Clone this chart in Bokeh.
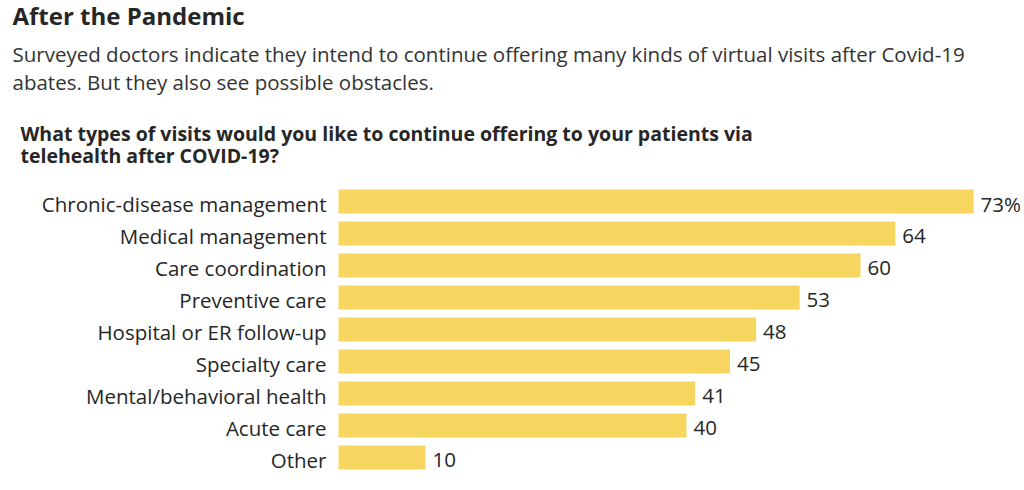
from bokeh.plotting import figure
from bokeh.models import ColumnDataSource, Range1d, Label
from bokeh.core.properties import value
from bokeh.embed import file_html
from bokeh.resources import INLINE

# ---- data ----
categories = [
    "Chronic-disease management",
    "Medical management",
    "Care coordination",
    "Preventive care",
    "Hospital or ER follow-up",
    "Specialty care",
    "Mental/behavioral health",
    "Acute care",
    "Other",
]
values = [73, 64, 60, 53, 48, 45, 41, 40, 10]
value_labels = ["73%", "64", "60", "53", "48", "45", "41", "40", "10"]

title_text = "After the Pandemic"
subtitle_lines = [
    "Surveyed doctors indicate they intend to continue offering many kinds of virtual visits after Covid-19",
    "abates. But they also see possible obstacles.",
]
question_lines = [
    "What types of visits would you like to continue offering to your patients via",
    "telehealth after COVID-19?",
]

# ---- layout / style ----
W, H = 1020, 486
PX_PER_UNIT = 8.7
ZERO_PX = 338
ROW_PX = 32
FIRST_ROW_PX = 201
FONT = "Open Sans"
BAR = "#f6d65e"
TXT = "#262626"

x0 = -ZERO_PX / PX_PER_UNIT
x1 = (W - ZERO_PX) / PX_PER_UNIT
ytop = -FIRST_ROW_PX / ROW_PX
ybot = (H - FIRST_ROW_PX) / ROW_PX


def px_x(px):
    return x0 + px / PX_PER_UNIT


def px_y(py):
    return ytop + py / ROW_PX


p = figure(width=W, height=H, output_backend="svg", toolbar_location=None,
           x_range=Range1d(x0, x1), y_range=Range1d(ybot, ytop),
           min_border=0, x_axis_location=None, y_axis_location=None)
p.grid.visible = False
p.outline_line_color = None
p.background_fill_color = "white"
p.border_fill_color = "white"

src = ColumnDataSource(dict(row=list(range(len(categories))), cat=categories,
                            val=values, lab=value_labels))

p.hbar(y="row", left=0, right="val", height=0.75, source=src,
       fill_color=BAR, line_color=None)

p.text(x=0, y="row", text="cat", source=src, x_offset=-12, y_offset=2,
       text_align="right", text_baseline="middle",
       text_font=value(FONT), text_font_size="20.5px", text_color=TXT)

p.text(x="val", y="row", text="lab", source=src, x_offset=7, y_offset=2,
       text_align="left", text_baseline="middle",
       text_font=value(FONT), text_font_size="20.5px", text_color=TXT)

p.add_layout(Label(x=px_x(12), y=px_y(15), text=title_text,
                   text_align="left", text_baseline="middle",
                   text_font=FONT, text_font_size="24px", text_font_style="bold",
                   text_color=TXT))
for i, line in enumerate(subtitle_lines):
    p.add_layout(Label(x=px_x(12), y=px_y(53 + 28 * i), text=line,
                       text_align="left", text_baseline="middle",
                       text_font=FONT, text_font_size="20.5px",
                       text_color="#333333"))
for i, line in enumerate(question_lines):
    p.add_layout(Label(x=px_x(20), y=px_y(133 + 22 * i), text=line,
                       text_align="left", text_baseline="middle",
                       text_font=FONT, text_font_size="19.5px", text_font_style="bold",
                       text_color=TXT))

open("out.html", "w").write(file_html(p, INLINE))
